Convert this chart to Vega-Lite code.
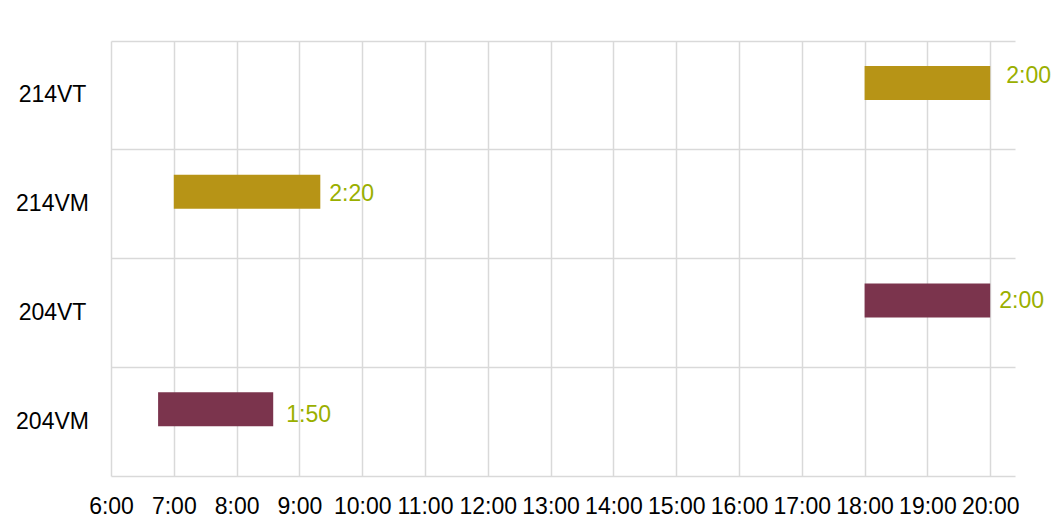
{
  "$schema": "https://vega.github.io/schema/vega-lite/v6.json",
  "width": 904,
  "height": 435,
  "autosize": {"type": "none"},
  "padding": {"left": 111, "top": 41, "right": 37, "bottom": 42},
  "background": "white",
  "config": {"view": {"stroke": null}, "font": "Liberation Sans"},
  "data": {
    "values": [
      {"cat": "214VT", "group": "214", "start": 18.0, "end": 20.0, "label": "2:00"},
      {"cat": "214VM", "group": "214", "start": 7.0, "end": 9.333, "label": "2:20"},
      {"cat": "204VT", "group": "204", "start": 18.0, "end": 20.0, "label": "2:00"},
      {"cat": "204VM", "group": "204", "start": 6.75, "end": 8.583, "label": "1:50"}
    ]
  },
  "encoding": {
    "y": {
      "field": "cat",
      "type": "nominal",
      "sort": ["214VT", "214VM", "204VT", "204VM"],
      "scale": {"paddingInner": 0, "paddingOuter": 0},
      "axis": {
        "title": null,
        "domain": false,
        "ticks": false,
        "grid": true,
        "bandPosition": 0,
        "gridColor": "#d9d9d9",
        "gridWidth": 1.5,
        "labelAlign": "center",
        "labelPadding": 59,
        "labelFontSize": 23,
        "labelColor": "#000000"
      }
    }
  },
  "layer": [
    {
      "mark": {"type": "bar", "size": 34, "yOffset": -12.5},
      "encoding": {
        "x": {
          "field": "start",
          "type": "quantitative",
          "scale": {"domain": [6, 20.395], "nice": false, "zero": false},
          "axis": {
            "title": null,
            "values": [6, 7, 8, 9, 10, 11, 12, 13, 14, 15, 16, 17, 18, 19, 20],
            "labelExpr": "datum.value + ':00'",
            "grid": true,
            "gridColor": "#d9d9d9",
            "gridWidth": 1.5,
            "domain": true,
            "domainColor": "#d9d9d9",
            "domainWidth": 1.5,
            "ticks": false,
            "labelPadding": 19,
            "labelFontSize": 23,
            "labelColor": "#000000",
            "labelOverlap": false,
            "labelFlush": false
          }
        },
        "x2": {"field": "end"},
        "color": {
          "field": "group",
          "type": "nominal",
          "scale": {"domain": ["204", "214"], "range": ["#7b344d", "#b79416"]},
          "legend": null
        }
      }
    },
    {
      "transform": [{"filter": "datum.cat === '214VT'"}],
      "mark": {"type": "text", "align": "left", "baseline": "middle", "dx": 16, "yOffset": -19.5, "fontSize": 23, "color": "#9aaf00"},
      "encoding": {"x": {"field": "end", "type": "quantitative"}, "text": {"field": "label"}}
    },
    {
      "transform": [{"filter": "datum.cat === '214VM'"}],
      "mark": {"type": "text", "align": "left", "baseline": "middle", "dx": 9, "yOffset": -10.5, "fontSize": 23, "color": "#9aaf00"},
      "encoding": {"x": {"field": "end", "type": "quantitative"}, "text": {"field": "label"}}
    },
    {
      "transform": [{"filter": "datum.cat === '204VT'"}],
      "mark": {"type": "text", "align": "left", "baseline": "middle", "dx": 9, "yOffset": -11.5, "fontSize": 23, "color": "#9aaf00"},
      "encoding": {"x": {"field": "end", "type": "quantitative"}, "text": {"field": "label"}}
    },
    {
      "transform": [{"filter": "datum.cat === '204VM'"}],
      "mark": {"type": "text", "align": "left", "baseline": "middle", "dx": 13, "yOffset": -6.5, "fontSize": 23, "color": "#9aaf00"},
      "encoding": {"x": {"field": "end", "type": "quantitative"}, "text": {"field": "label"}}
    }
  ]
}
